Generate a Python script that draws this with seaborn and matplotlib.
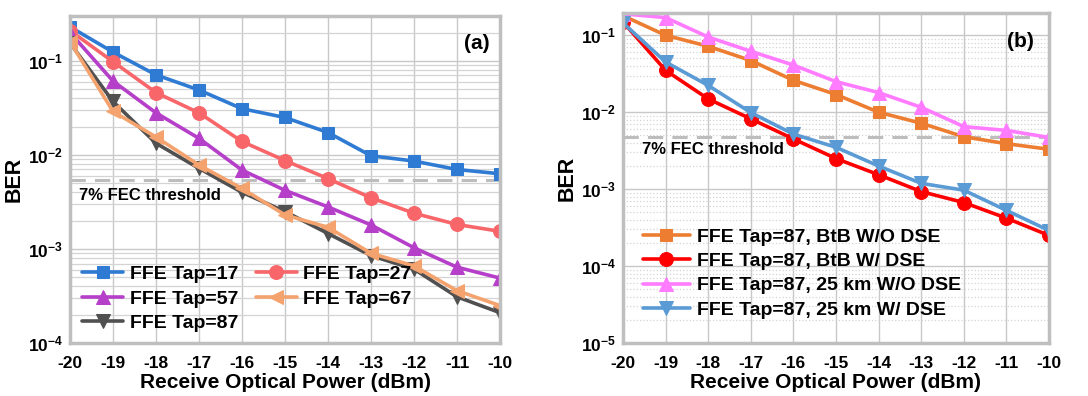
import numpy as np
import pandas as pd
import matplotlib
matplotlib.use("Agg")
import matplotlib.pyplot as plt
import seaborn as sns
from matplotlib.ticker import FixedLocator, FuncFormatter, LogLocator

sns.set_style("white")
plt.rcParams["font.family"] = ["Liberation Sans", "DejaVu Sans"]
plt.rcParams["font.weight"] = "bold"
plt.rcParams["axes.unicode_minus"] = False
plt.rcParams["mathtext.fontset"] = "custom"
plt.rcParams["mathtext.bf"] = "Liberation Sans:bold"
plt.rcParams["mathtext.rm"] = "Liberation Sans:bold"
plt.rcParams["text.color"] = "black"
plt.rcParams["axes.labelcolor"] = "black"
plt.rcParams["xtick.color"] = "black"
plt.rcParams["ytick.color"] = "black"

# receive optical power (dBm)
power = [-20, -19, -18, -17, -16, -15, -14, -13, -12, -11, -10]

# panel (a): BER vs FFE tap count
tap17 = [0.23, 0.124, 0.071, 0.049, 0.031, 0.025, 0.0173, 0.0098, 0.0086, 0.0070, 0.0063]
tap27 = [0.21, 0.098, 0.046, 0.028, 0.0139, 0.0087, 0.0056, 0.0035, 0.0024, 0.00182, 0.00154]
tap57 = [0.20, 0.061, 0.028, 0.015, 0.0069, 0.0042, 0.0028, 0.0018, 0.00103, 0.00064, 0.00049]
tap67 = [0.16, 0.029, 0.0155, 0.0078, 0.0044, 0.0023, 0.0017, 0.0009, 0.00066, 0.00036, 0.00025]
tap87 = [0.155, 0.037, 0.0133, 0.0072, 0.0040, 0.0025, 0.00146, 0.00085, 0.00061, 0.00031, 0.00021]
fec_a = 0.0054

# panel (b): BtB / 25 km with and without DSE
btb_wo = [0.18, 0.100, 0.072, 0.047, 0.026, 0.017, 0.010, 0.0072, 0.0048, 0.0039, 0.0033]
btb_w = [0.149, 0.035, 0.0149, 0.0082, 0.0045, 0.0025, 0.00154, 0.00093, 0.00067, 0.00042, 0.00025]
km25_wo = [0.19, 0.17, 0.095, 0.062, 0.041, 0.025, 0.018, 0.0116, 0.0065, 0.0058, 0.0047]
km25_w = [0.145, 0.045, 0.0223, 0.0099, 0.0052, 0.0035, 0.0020, 0.00119, 0.00097, 0.00053, 0.00029]
fec_b = 0.0048

fig = plt.figure(figsize=(10.88, 3.96), dpi=100)
ax_a = fig.add_axes([70 / 1088, 1 - 343 / 396, 430 / 1088, 327 / 396])
ax_b = fig.add_axes([623 / 1088, 1 - 343 / 396, 426 / 1088, 330 / 396])


def draw(ax, y, color, marker, label, ms=9):
    sns.lineplot(x=power, y=y, ax=ax, color=color, marker=marker, markersize=ms,
                 markeredgecolor=color, linewidth=2.6, label=label)


def style(ax, ylim, minor_ls):
    ax.set_yscale("log")
    ax.set_ylim(*ylim)
    ax.set_xlim(-20, -10)
    ax.xaxis.set_major_locator(FixedLocator(power))
    ax.yaxis.set_major_locator(LogLocator(base=10, numticks=10))
    ax.yaxis.set_minor_locator(LogLocator(base=10, subs=np.arange(2, 10), numticks=20))
    ax.yaxis.set_major_formatter(FuncFormatter(
        lambda v, p: r"$\mathbf{10^{%d}}$" % round(np.log10(v))))
    ax.yaxis.set_minor_formatter(FuncFormatter(lambda v, p: ""))
    ax.grid(True, which="major", color="#c8c8c8", linewidth=1.0)
    ax.grid(True, which="minor", axis="y", color="#d4d4d4", linewidth=0.9, linestyle=minor_ls)
    ax.set_axisbelow(True)
    for s in ax.spines.values():
        s.set_color("#bfbfbf")
        s.set_linewidth(2.5)
    ax.tick_params(axis="both", which="both", length=0, labelsize=12.5)
    ax.tick_params(axis="x", pad=9)
    ax.tick_params(axis="y", pad=5)
    for t in ax.get_xticklabels() + ax.get_yticklabels():
        t.set_fontweight("bold")
    ax.set_xlabel("Receive Optical Power (dBm)", fontsize=15, fontweight="bold", labelpad=2)
    ax.set_ylabel("BER", fontsize=15.5, fontweight="bold", labelpad=2)


# panel (a)
draw(ax_a, tap17, "#2f7bd3", "s", "FFE Tap=17")
draw(ax_a, tap27, "#f8666a", "o", "FFE Tap=27", ms=10)
draw(ax_a, tap57, "#b63fc9", "^", "FFE Tap=57", ms=10)
draw(ax_a, tap87, "#505050", "v", "FFE Tap=87", ms=10)
draw(ax_a, tap67, "#f4a36f", "<", "FFE Tap=67", ms=10)
ax_a.axhline(fec_a, color="#bdbdbd", linewidth=2.2, linestyle=(0, (5, 3)), zorder=1.5)
style(ax_a, (1e-4, 0.30), "-")
ax_a.text(0.022, 0.45, "7% FEC threshold", transform=ax_a.transAxes, fontsize=12,
          fontweight="bold", va="center")
ax_a.text(0.975, 0.915, "(a)", transform=ax_a.transAxes, fontsize=15,
          fontweight="bold", ha="right", va="center")
h, l = ax_a.get_legend_handles_labels()
order = [l.index(n) for n in ["FFE Tap=17", "FFE Tap=57", "FFE Tap=87", "FFE Tap=27", "FFE Tap=67"]]
ax_a.legend([h[i] for i in order], [l[i] for i in order], ncol=2, loc="lower left",
            bbox_to_anchor=(-0.012, -0.02), frameon=False, handlelength=2.1,
            handletextpad=0.35, columnspacing=0.9, labelspacing=0.35,
            prop={"weight": "bold", "size": 14})

# panel (b)
draw(ax_b, btb_wo, "#ed7d31", "s", "FFE Tap=87, BtB W/O DSE")
draw(ax_b, btb_w, "#ff0000", "o", "FFE Tap=87, BtB W/ DSE", ms=10)
draw(ax_b, km25_wo, "#ff7bff", "^", "FFE Tap=87, 25 km W/O DSE", ms=10)
draw(ax_b, km25_w, "#5b9bd5", "v", "FFE Tap=87, 25 km W/ DSE", ms=10)
ax_b.axhline(fec_b, color="#bdbdbd", linewidth=2.2, linestyle=(0, (5, 3)), zorder=1.5)
style(ax_b, (1e-5, 0.195), ":")
ax_b.text(0.045, 0.585, "7% FEC threshold", transform=ax_b.transAxes, fontsize=12,
          fontweight="bold", va="center")
ax_b.text(0.965, 0.915, "(b)", transform=ax_b.transAxes, fontsize=15,
          fontweight="bold", ha="right", va="center")
ax_b.legend(loc="lower left", bbox_to_anchor=(0.006, 0.02), frameon=False,
            handlelength=2.4, handletextpad=0.35, labelspacing=0.35,
            prop={"weight": "bold", "size": 14})

fig.savefig("out.png", dpi=100)
